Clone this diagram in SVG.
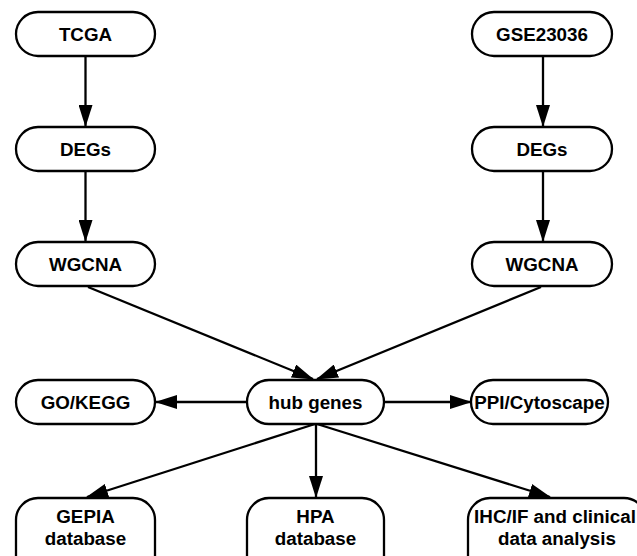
<svg xmlns="http://www.w3.org/2000/svg" width="637" height="556" viewBox="0 0 637 556">
<style>
.box{fill:#fff;stroke:#000;stroke-width:2.3}
.t{font-family:"Liberation Sans",Arial,sans-serif;font-weight:bold;font-size:18.8px;fill:#000;text-anchor:middle}
.c{stroke:#000;stroke-width:2.3;fill:none;marker-end:url(#ah)}
</style>
<defs>
<marker id="ah" markerUnits="userSpaceOnUse" markerWidth="22" markerHeight="14" refX="21" refY="7" orient="auto">
<path d="M0,0 L22,7 L0,14 z" fill="#000"/>
</marker>
</defs>
<rect width="637" height="556" fill="#fff"/>
<g id="connectors">
<line class="c" x1="85.5" y1="56" x2="85.5" y2="126"/>
<line class="c" x1="85.5" y1="171" x2="85.5" y2="241"/>
<line class="c" x1="543" y1="56" x2="543" y2="126"/>
<line class="c" x1="543" y1="171" x2="543" y2="241"/>
<line class="c" x1="88" y1="287" x2="313" y2="379"/>
<line class="c" x1="541" y1="287" x2="317" y2="379"/>
<line class="c" x1="247" y1="402" x2="156" y2="402"/>
<line class="c" x1="384" y1="402" x2="471" y2="402"/>
<line class="c" x1="315" y1="424" x2="87" y2="497"/>
<line class="c" x1="316" y1="424" x2="316" y2="497"/>
<line class="c" x1="317" y1="424" x2="550" y2="497"/>
</g>
<g id="tcga"><rect class="box" x="16" y="12" width="139" height="44" rx="22"/><text class="t" x="85.5" y="41">TCGA</text></g>
<g id="degs1"><rect class="box" x="16" y="127" width="139" height="44" rx="22"/><text class="t" x="85.5" y="156">DEGs</text></g>
<g id="wgcna1"><rect class="box" x="16" y="242" width="139" height="44" rx="22"/><text class="t" x="85.5" y="271">WGCNA</text></g>
<g id="gse"><rect class="box" x="472" y="12" width="140" height="44" rx="22"/><text class="t" x="542" y="41">GSE23036</text></g>
<g id="degs2"><rect class="box" x="472" y="127" width="140" height="44" rx="22"/><text class="t" x="542" y="156">DEGs</text></g>
<g id="wgcna2"><rect class="box" x="472" y="242" width="140" height="44" rx="22"/><text class="t" x="542" y="271">WGCNA</text></g>
<g id="hub"><rect class="box" x="247" y="380" width="137" height="44" rx="22"/><text class="t" x="315.5" y="409">hub genes</text></g>
<g id="gokegg"><rect class="box" x="16" y="380" width="139" height="44" rx="22"/><text class="t" x="85.5" y="409">GO/KEGG</text></g>
<g id="ppi"><rect class="box" x="471" y="380" width="137" height="44" rx="22"/><text class="t" x="539.5" y="409">PPI/Cytoscape</text></g>
<g id="gepia"><rect class="box" x="16" y="498" width="139" height="80" rx="22"/><text class="t" x="85.5" y="523">GEPIA</text><text class="t" x="85.5" y="545">database</text></g>
<g id="hpa"><rect class="box" x="247" y="498" width="137" height="80" rx="22"/><text class="t" x="315.5" y="523">HPA</text><text class="t" x="315.5" y="545">database</text></g>
<g id="ihc"><rect class="box" x="468" y="498" width="178" height="80" rx="22"/><text class="t" x="555" y="523">IHC/IF and clinical</text><text class="t" x="557" y="545">data analysis</text></g>
</svg>
